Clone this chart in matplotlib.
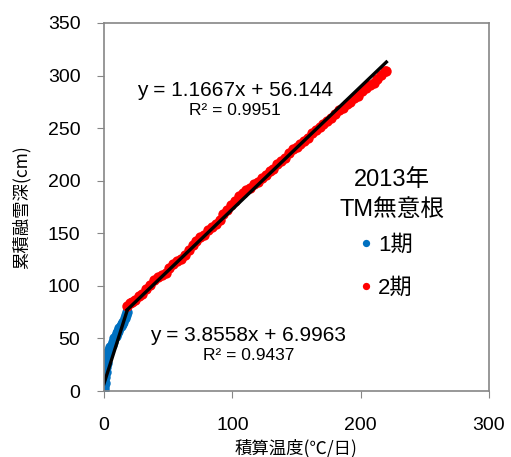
import numpy as np
import matplotlib.pyplot as plt

plt.rcParams['font.family'] = ['Liberation Sans', 'Noto Sans CJK JP', 'DejaVu Sans']

# Phase 1 (1期) data
x1 = [0.0, 0.2, 0.5, 0.8, 1.2, 1.6, 2.0, 2.5, 3.0, 3.5, 4.0, 5.0, 6.0,
      7.0, 8.0, 9.0, 10.0, 11.0, 12.0, 13.0, 14.0, 15.0, 16.0, 17.0, 18.0]
y1 = [1, 4, 8, 13, 18, 23, 27, 31, 34, 37, 39, 42, 44,
      47, 50, 52, 55, 57, 60, 62, 64, 66, 69, 72, 75]

# Phase 2 (2期) data
x2 = [18, 20, 22, 24, 27, 30, 33, 36, 39, 42, 45, 48, 51, 54, 57, 60,
      63, 66, 69, 72, 75, 78, 81, 84, 87, 90, 93, 96, 99, 102, 105, 108,
      111, 114, 117, 120, 123, 126, 129, 132, 135, 138, 141, 144, 147, 150,
      153, 156, 159, 162, 165, 168, 171, 174, 177, 180, 183, 186, 189, 192,
      195, 198, 201, 204, 207, 210, 213, 216, 219, 220]
y2 = [81, 84, 85, 87, 90, 92, 97, 101, 106, 108, 110, 112, 117, 121, 124, 126,
      129, 134, 139, 143, 146, 148, 153, 156, 159, 163, 168, 172, 177, 181, 185, 188,
      191, 193, 197, 199, 203, 205, 209, 211, 216, 219, 222, 226, 230, 232,
      235, 238, 241, 245, 248, 251, 254, 257, 260, 263, 267, 269, 273, 275,
      279, 281, 285, 288, 291, 293, 297, 301, 304, 304]

# trendline coefficients (slope, intercept)
fit1 = (3.8558, 6.9963)
fit2 = (1.1667, 56.144)
r2_1 = 0.9437
r2_2 = 0.9951

fig = plt.figure(figsize=(5.11, 4.57), dpi=100)
ax = fig.add_axes([0.2035, 0.1444, 0.7535, 0.8053])

ax.plot(x1, y1, 'o', color='#0070C0', ms=7.5, mec='none', label='1期')
ax.plot(x2, y2, 'o', color='#FF0000', ms=7.5, mec='none', label='2期')

t1 = np.array([min(x1), max(x1)])
t2 = np.array([min(x2), max(x2)])
ax.plot(t1, fit1[0]*t1 + fit1[1], '-', color='black', lw=2.4)
ax.plot(t2, fit2[0]*t2 + fit2[1], '-', color='black', lw=2.4)

ax.text(102, 286, 'y = %.4fx + %.3f' % fit2, ha='center', va='center', fontsize=15)
ax.text(102, 267, 'R² = %.4f' % r2_2, ha='center', va='center', fontsize=12.5)
ax.text(112, 53, 'y = %.4fx + %.4f' % fit1, ha='center', va='center', fontsize=15)
ax.text(113, 34, 'R² = %.4f' % r2_1, ha='center', va='center', fontsize=12.5)

ax.set_xlim(0, 300)
ax.set_ylim(0, 350)
ax.set_xticks([0, 100, 200, 300])
ax.set_yticks(range(0, 351, 50))
ax.tick_params(direction='out', length=5, color='#868686', labelsize=14)
ax.tick_params(axis='y', pad=12)
ax.tick_params(axis='x', pad=14)
for s in ax.spines.values():
    s.set_color('#868686')
    s.set_linewidth(1.2)

ax.set_xlabel('積算温度(℃/日)', fontsize=12.5, family=['Noto Sans CJK JP'], labelpad=3)
ax.set_ylabel('累積融雪深(cm)', fontsize=12.5, family=['Noto Sans CJK JP'], labelpad=12)

# legend title drawn as text, entries as a legend
ax.text(0.748, 0.573, '2013年', transform=ax.transAxes, ha='center', va='center', fontsize=17)
ax.text(0.748, 0.491, 'TM無意根', transform=ax.transAxes, ha='center', va='center', fontsize=17)
leg = ax.legend(loc='center', bbox_to_anchor=(0.73, 0.338), frameon=False,
                fontsize=16, markerscale=0.7, handletextpad=0.15,
                labelspacing=1.0, handlelength=0.8)

fig.savefig('out.png', dpi=100)
